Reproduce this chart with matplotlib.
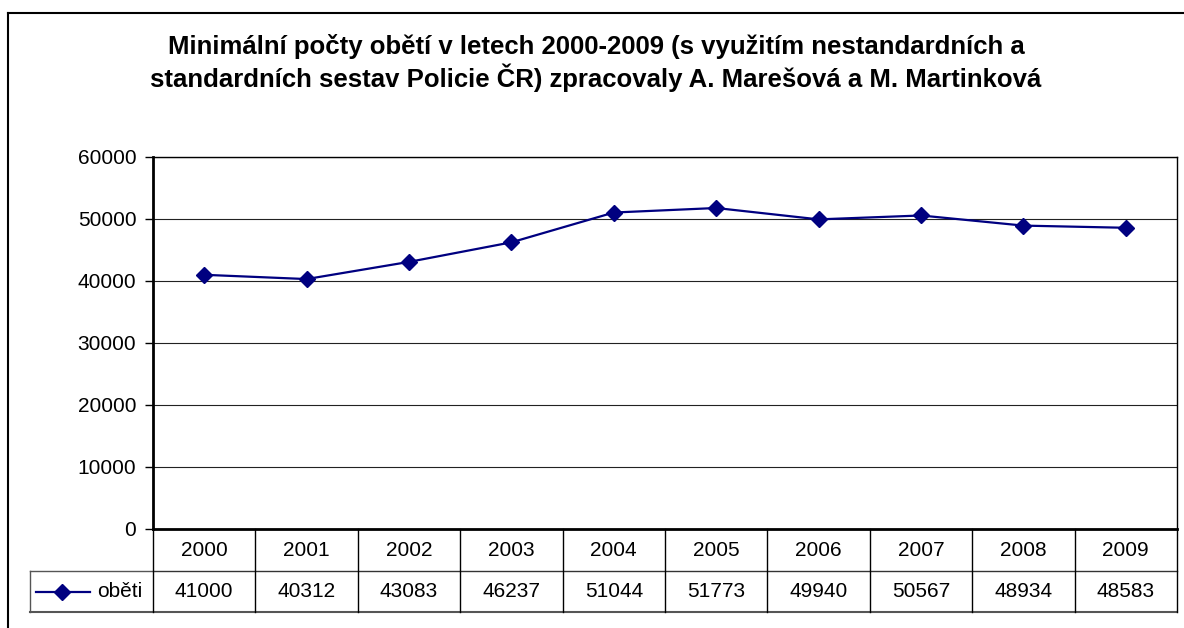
import matplotlib.pyplot as plt
from matplotlib.transforms import blended_transform_factory
from matplotlib.lines import Line2D

years = ['2000', '2001', '2002', '2003', '2004', '2005', '2006', '2007', '2008', '2009']
obeti = [41000, 40312, 43083, 46237, 51044, 51773, 49940, 50567, 48934, 48583]
series_name = 'oběti'
title = ('Minimální počty obětí v letech 2000-2009 (s využitím nestandardních a\n'
         'standardních sestav Policie ČR) zpracovaly A. Marešová a M. Martinková')

plt.rcParams['font.family'] = ['Liberation Sans', 'DejaVu Sans']
navy = '#000080'
W, H = 1184, 628

fig = plt.figure(figsize=(W / 100, H / 100), dpi=100)
fig.patch.set_facecolor('white')

# outer chart border (only top and left visible in the crop)
fig.add_artist(Line2D([8 / W, 1], [1 - 13 / H, 1 - 13 / H], color='black', lw=1.5, transform=fig.transFigure))
fig.add_artist(Line2D([8 / W, 8 / W], [0, 1 - 13 / H], color='black', lw=1.5, transform=fig.transFigure))

fig.text(596 / W, 1 - 63 / H, title, ha='center', va='center', fontsize=18.5,
         fontweight='bold', linespacing=1.17)

left, right, top, bottom = 153, 1177, 157, 529
ax = fig.add_axes([left / W, 1 - bottom / H, (right - left) / W, (bottom - top) / H])

x = list(range(len(years)))
ax.plot(x, obeti, color=navy, lw=1.6, marker='D', markersize=8.5, zorder=3)

ax.set_xlim(-0.5, len(years) - 0.5)
ax.set_ylim(0, 60000)
ax.set_yticks(range(0, 60001, 10000))
ax.yaxis.grid(True, color='#222222', lw=0.8)
ax.set_axisbelow(True)
ax.set_xticks([])
ax.tick_params(axis='y', direction='out', length=6, width=1, labelsize=15, pad=6)
for s in ['top', 'right']:
    ax.spines[s].set_linewidth(1.0)
for s in ['left', 'bottom']:
    ax.spines[s].set_linewidth(2.0)

# data table below the plot
tr = blended_transform_factory(ax.transData, ax.transAxes)
row_h = 42 / (bottom - top)
y1 = -row_h
y2 = -2 * row_h + 1 / (bottom - top)
unit = (right - left) / len(years)
leg_x = -0.5 - (left - 30) / unit
n = len(years)

ax.add_line(Line2D([-0.5, n - 0.5], [y1, y1], color='#333333', lw=1, transform=tr, clip_on=False))
ax.add_line(Line2D([leg_x, -0.5], [y1, y1], color='#555555', lw=1, transform=tr, clip_on=False))
ax.add_line(Line2D([leg_x, n - 0.5], [y2, y2], color='#555555', lw=1.5, transform=tr, clip_on=False))
ax.add_line(Line2D([leg_x, leg_x], [y1, y2], color='#555555', lw=1, transform=tr, clip_on=False))
for i in range(n + 1):
    xi = i - 0.5
    ax.add_line(Line2D([xi, xi], [0, y2], color='black', lw=1, transform=tr, clip_on=False))

for i, (yr, v) in enumerate(zip(years, obeti)):
    ax.text(i, y1 / 2, yr, ha='center', va='center', fontsize=15, transform=tr)
    ax.text(i, (y1 + y2) / 2, str(v), ha='center', va='center', fontsize=15, transform=tr)

# legend key inside the table
ym = (y1 + y2) / 2
lx0 = -0.5 - (left - 36) / unit
lx1 = -0.5 - (left - 90) / unit
lxm = -0.5 - (left - 62) / unit
ax.add_line(Line2D([lx0, lx1], [ym, ym], color=navy, lw=1.6, transform=tr, clip_on=False))
ax.add_line(Line2D([lxm], [ym], color=navy, marker='D', markersize=8.5, transform=tr, clip_on=False))
ax.text(-0.5 - (left - 97) / unit, ym, series_name, ha='left', va='center', fontsize=15, transform=tr)

fig.savefig('out.png', dpi=100)
